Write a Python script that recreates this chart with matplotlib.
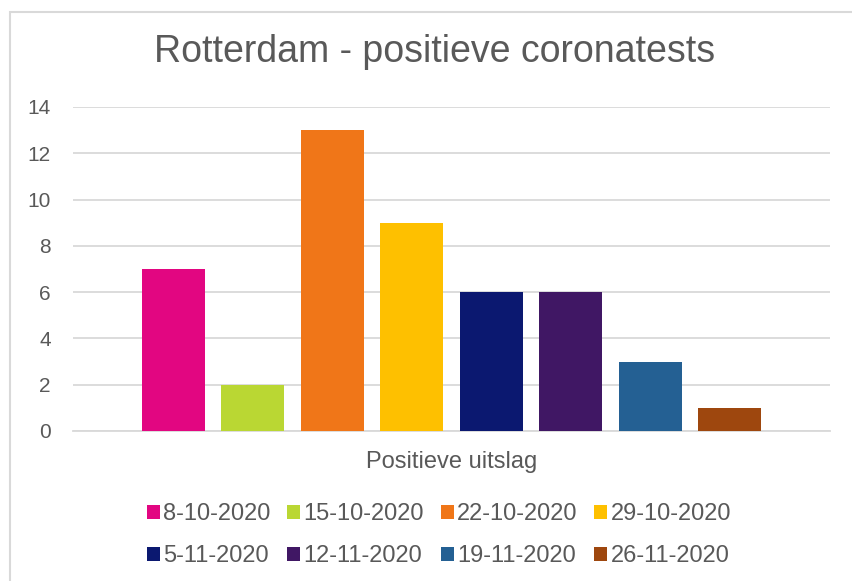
import numpy as np
from matplotlib.pyplot import figure
from matplotlib.patches import Rectangle

# Data
dates = ['8-10-2020', '15-10-2020', '22-10-2020', '29-10-2020',
         '5-11-2020', '12-11-2020', '19-11-2020', '26-11-2020']
positives = [7, 2, 13, 9, 6, 6, 3, 1]
bar_colors = ['#E20681', '#BAD733', '#F07618', '#FEC000',
              '#0B1870', '#401764', '#246093', '#9E470E']

category = 'Positieve uitslag'
title = 'Rotterdam - positieve coronatests'
y_ticks = [0, 2, 4, 6, 8, 10, 12, 14]

text_color = '#595959'
grid_color = '#D9D9D9'
font = ['Liberation Sans', 'DejaVu Sans']


def plot_chart():
    fig = figure(figsize=(8.53, 5.81), dpi=100)

    # Chart area border (runs off the right and bottom of the picture)
    fig.patches.append(Rectangle((9.5 / 853, -0.1), 1.2, 1.1 - 11.5 / 581,
                                 transform=fig.transFigure, fill=False,
                                 edgecolor=grid_color, linewidth=1.5))

    frame = fig.add_axes([73 / 853, 1 - 431 / 581, 757 / 853, 324 / 581])

    # One category, every date is its own series
    positions = np.arange(len(dates))
    bars = []
    for pos, date, value, color in zip(positions, dates, positives, bar_colors):
        bars.append(frame.bar(pos, value, width=0.79, color=color, label=date, zorder=3))

    half = 757 / 2 / 79.5
    centre = (len(dates) - 1) / 2
    frame.set_xlim(centre - half, centre + half)
    frame.set_ylim(0, 14)
    frame.set_yticks(y_ticks)
    frame.set_yticklabels([str(t) for t in y_ticks], family=font, fontsize=15,
                          color=text_color)
    frame.set_xticks([])
    frame.tick_params(axis='y', length=0, pad=16)

    frame.grid(axis='y', color=grid_color, linewidth=1.3, zorder=0)
    for side in ['top', 'right', 'left']:
        frame.spines[side].set_visible(False)
    frame.spines['bottom'].set_color(grid_color)
    frame.spines['bottom'].set_linewidth(1.3)

    fig.text(434.5 / 853, 1 - 52 / 581, title, ha='center', va='center',
             family=font, fontsize=27, color=text_color)
    fig.text(452 / 853, 1 - 462 / 581, category, ha='center', va='center',
             family=font, fontsize=17, color=text_color)

    # Legend is filled row by row, matplotlib fills by column, so reorder
    order = [0, 4, 1, 5, 2, 6, 3, 7]
    leg = fig.legend([bars[i] for i in order], [dates[i] for i in order],
                     loc='center', bbox_to_anchor=(439 / 853, 1 - 535 / 581),
                     ncol=4, frameon=False, prop={'family': font, 'size': 17},
                     handlelength=0.55, handleheight=0.55, handletextpad=0.15,
                     columnspacing=0.7, labelspacing=0.85, borderpad=0)
    for text in leg.get_texts():
        text.set_color(text_color)

    fig.savefig('out.png', dpi=100)


if __name__ == '__main__':
    plot_chart()
